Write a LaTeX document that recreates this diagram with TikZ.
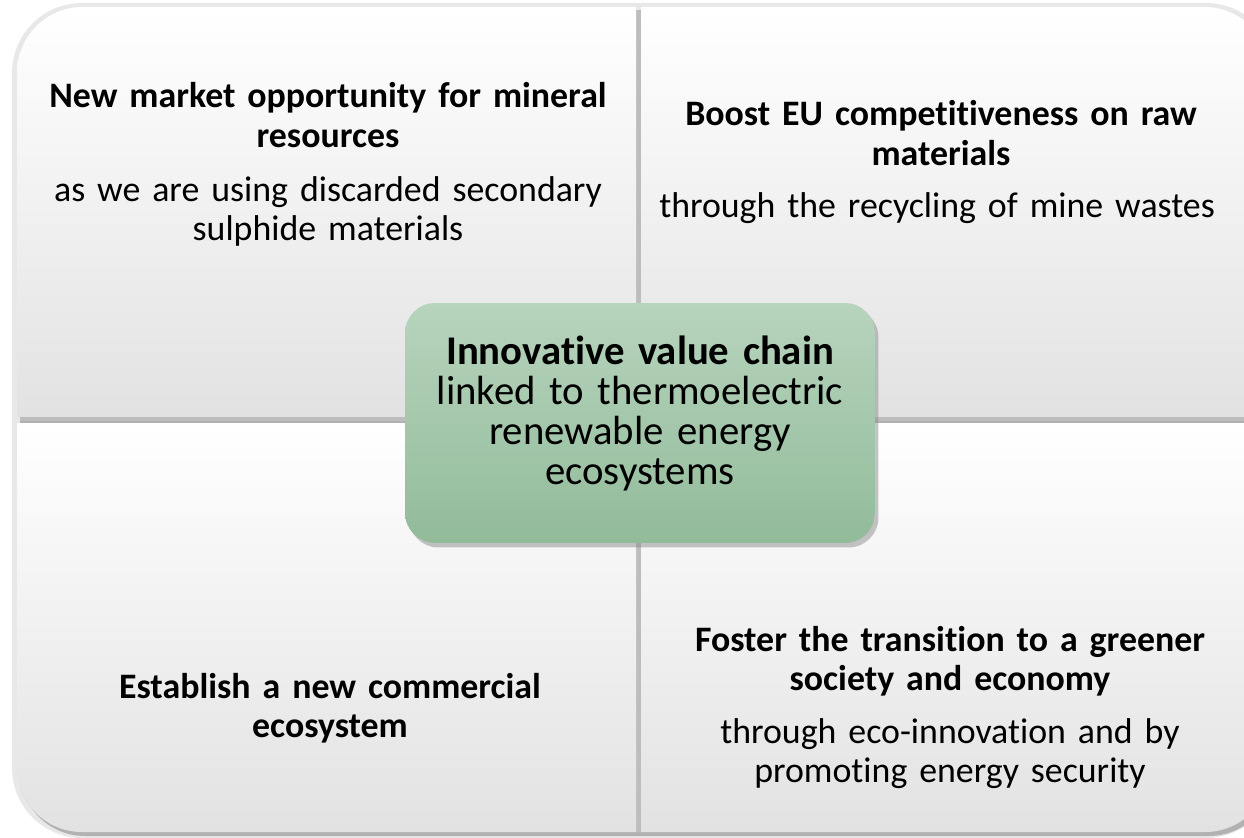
\documentclass[tikz,border=0pt]{standalone}
\usepackage{fontspec}
\setmainfont{Carlito}[Ligatures=NoCommon]
\usetikzlibrary{shadows}
\definecolor{hubtop}{RGB}{183,212,189}
\definecolor{hubbot}{RGB}{146,187,154}
\definecolor{quadbot}{RGB}{226,226,226}
\tikzset{
  quad/.style={top color=white,bottom color=quadbot,draw=none},
  qshadow/.style={fill=black!26},
  head/.style={font=\fontsize{20.4}{22.7}\selectfont\bfseries,align=center,
    text width=13cm,inner sep=0pt,anchor=base},
  body/.style={font=\fontsize{20.4}{22.7}\selectfont,align=center,
    text width=13cm,inner sep=0pt,anchor=base},
  hubtxt/.style={font=\fontsize{23.2}{22.9}\selectfont,align=center,
    text width=9cm,inner sep=0pt,anchor=base},
  hub/.style={rounded corners=0.6cm,top color=hubtop,bottom color=hubbot,
    minimum width=9.4cm,minimum height=4.8cm,
    drop shadow={shadow xshift=0.07cm,shadow yshift=-0.09cm,fill=black!45}}
}
\begin{document}
\begin{tikzpicture}[x=0.02cm,y=-0.02cm]
\useasboundingbox (0,0) rectangle (1244,838);
% outer shadow
\fill[black!9,rounded corners=1.4cm] (12,3) rectangle (1276,838);
\fill[black!30,rounded corners=1.3cm] (20,11) rectangle (1274,836);
\begin{scope}
  \clip[rounded corners=1.3cm] (17,7) rectangle (1270,832);
  \foreach \x/\y/\w in {17/7/619,641/7/629,17/423/619,641/423/629}{
    \fill[qshadow] (\x+3,\y+3) rectangle +(\w+2,411);
    \shade[quad] (\x,\y) rectangle +(\w,409);
  }
\end{scope}
% quadrant texts
\node[head] (tlhead) at (328,108) {New market opportunity for mineral\\resources};
\node[body] (tlbody) at (328,201) {as we are using discarded secondary\\sulphide materials};
\node[head] (trhead) at (941,126) {Boost EU competitiveness on raw\\materials};
\node[body] (trbody) at (937,217) {through the recycling of mine wastes};
\node[head] (blhead) at (330,698) {Establish a new commercial\\ecosystem};
\node[head] (brhead) at (950,651) {Foster the transition to a greener\\society and economy};
\node[body] (brbody) at (950,743) {through eco-innovation and by\\promoting energy security};
% centre
\node[hub] (hub) at (640,423) {};
\node[hubtxt] (hubtext) at (640,364) {\textbf{Innovative value chain}\\linked to thermoelectric\\renewable energy\\ecosystems};
\end{tikzpicture}
\end{document}
